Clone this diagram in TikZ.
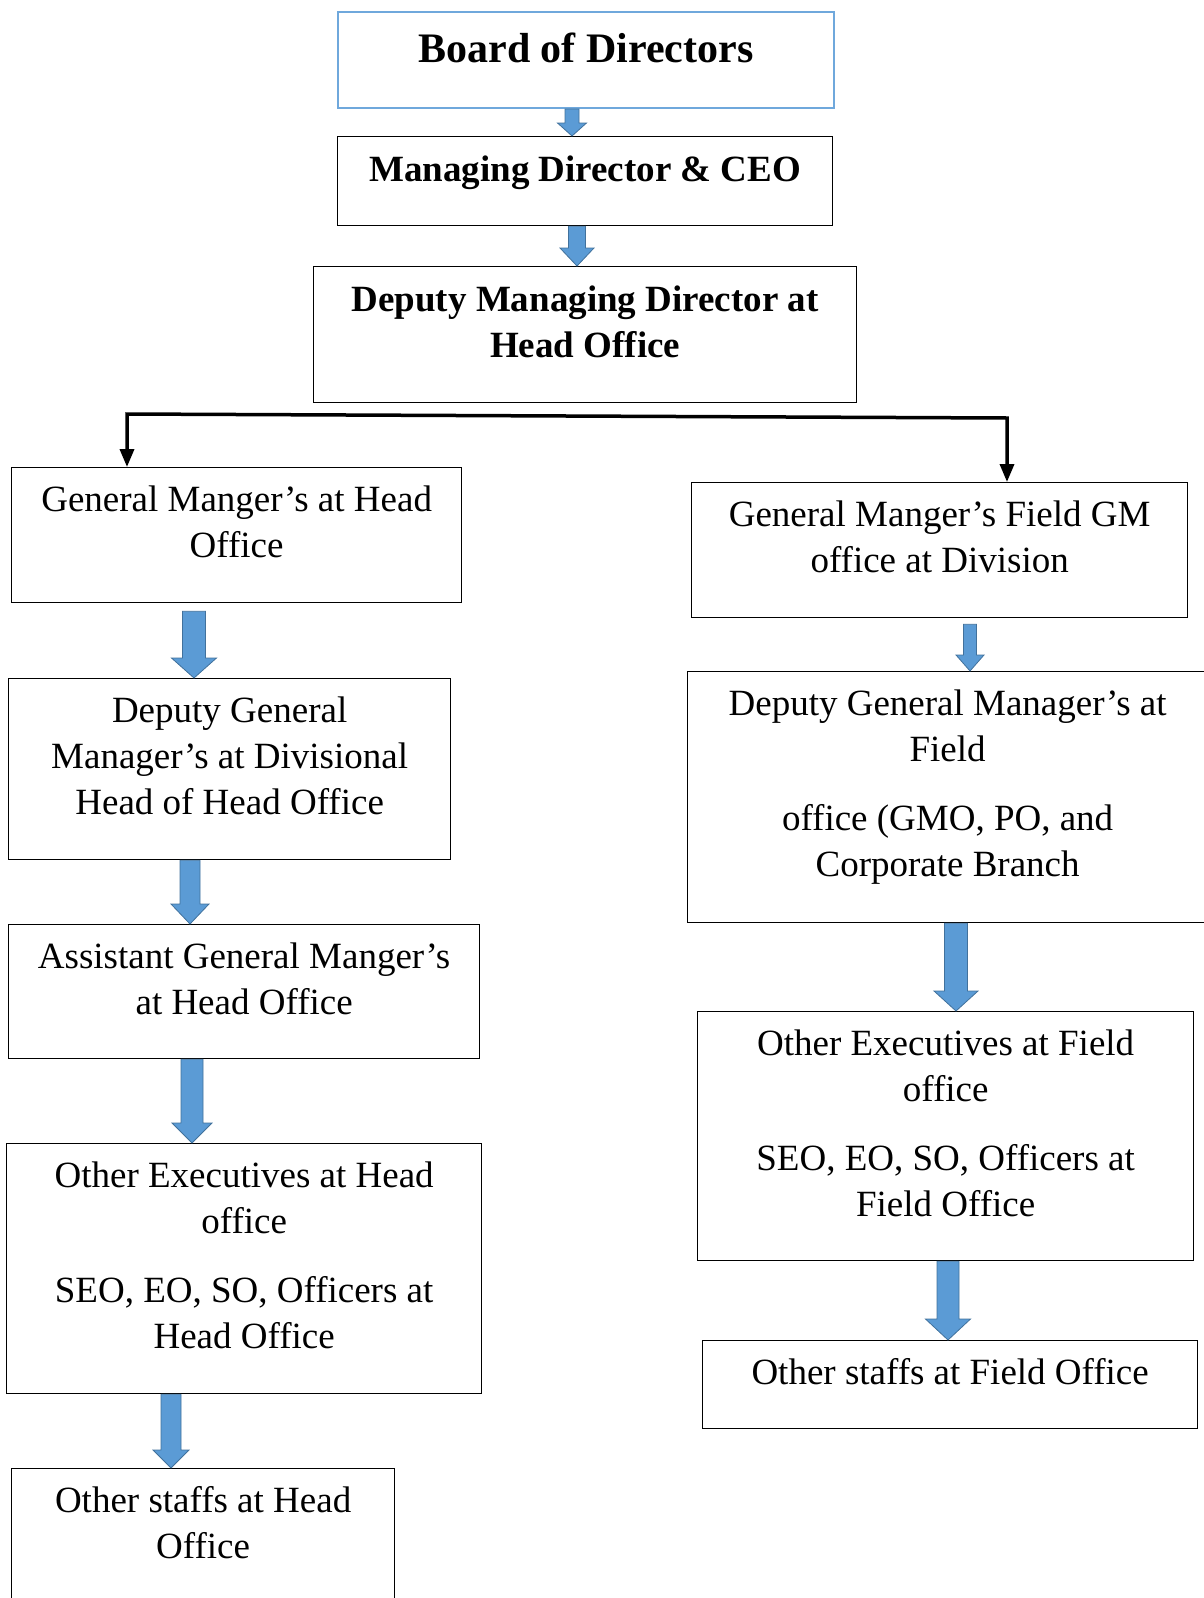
\documentclass[tikz,border=0pt]{standalone}
\usepackage{fontspec}
\setmainfont{Liberation Serif}
\usetikzlibrary{calc,arrows.meta}

\definecolor{arrowblue}{HTML}{5B9BD5}
\definecolor{arrowedge}{HTML}{41719C}
\definecolor{boardblue}{HTML}{6FA8DC}

% blue block arrow: start, tip, half shaft, half head, head length
\newcommand{\blockarrow}[5]{%
  \path (#1) coordinate (bs) (#2) coordinate (be);
  \draw[barrow] ($(bs)+(-#3,0)$) -- ($(be)+(-#3,-#5)$) -- ($(be)+(-#4,-#5)$)
    -- (be) -- ($(be)+(#4,-#5)$) -- ($(be)+(#3,-#5)$) -- ($(bs)+(#3,0)$) -- cycle;}

\begin{document}
\begin{tikzpicture}[
    x=1pt, y=-1pt,
    box/.style={draw, line width=1.3pt, anchor=north west, inner sep=0pt,
      font=\fontsize{37}{46}\selectfont},
    boldbox/.style={box, font=\fontsize{37}{46}\selectfont\bfseries},
    barrow/.style={fill=arrowblue, draw=arrowedge, line width=0.8pt, line join=miter},
    split/.style={line width=3.5pt, line join=miter}
  ]
  \useasboundingbox (0,0) rectangle (1204,1598);

  % Top of the chart
  \node[boldbox, draw=boardblue, line width=2pt, font=\fontsize{42}{50}\selectfont\bfseries]
    (bod) at (337,11) {\parbox[t][96pt][t]{496pt}{\centering\vspace*{21pt}Board of Directors}};
  \node[boldbox] (md) at (337,136)
    {\parbox[t][89pt][t]{495pt}{\centering\vspace*{19pt}Managing Director \& CEO}};
  \node[boldbox] (dmd) at (313,266)
    {\parbox[t][136pt][t]{543pt}{\centering\vspace*{19pt}Deputy Managing Director at\\Head Office}};

  % Head office side
  \node[box] (gmh) at (11,467)
    {\parbox[t][135pt][t]{450pt}{\centering\vspace*{18pt}General Manger’s at Head\\Office}};
  \node[box] (dgm) at (8,678)
    {\parbox[t][181pt][t]{442pt}{\centering\vspace*{18pt}Deputy General\\Manager’s at Divisional\\Head of Head Office}};
  \node[box] (agm) at (8,924)
    {\parbox[t][134pt][t]{471pt}{\centering\vspace*{18pt}Assistant General Manger’s\\at Head Office}};
  \node[box] (oeh) at (6,1143)
    {\parbox[t][250pt][t]{475pt}{\centering\vspace*{18pt}Other Executives at Head\\office\\[23pt]SEO, EO, SO, Officers at\\Head Office}};
  \node[box] (osh) at (11,1468)
    {\parbox[t][150pt][t]{383pt}{\centering\vspace*{18pt}Other staffs at Head\\Office}};

  % Field side
  \node[box] (gmf) at (691,482)
    {\parbox[t][135pt][t]{496pt}{\centering\vspace*{18pt}General Manger’s Field GM\\office at Division}};
  \node[box] (dgmf) at (687,671)
    {\parbox[t][251pt][t]{520pt}{\centering\vspace*{18pt}Deputy General Manager’s at\\Field\\[23pt]office (GMO, PO, and\\Corporate Branch}};
  \node[box] (oef) at (697,1011)
    {\parbox[t][249pt][t]{496pt}{\centering\vspace*{18pt}Other Executives at Field\\office\\[23pt]SEO, EO, SO, Officers at\\Field Office}};
  \node[box] (osf) at (702,1340)
    {\parbox[t][88pt][t]{495pt}{\centering\vspace*{18pt}Other staffs at Field Office}};

  % Split below the deputy MD
  \coordinate (lb) at (127,414);
  \coordinate (rb) at (1007,418);
  \draw[split, {Triangle[length=18pt,width=14pt]}-{Triangle[length=18pt,width=14pt]}]
    (gmh.north -| lb) -- (lb) -- (rb) -- (gmf.north -| rb);

  % Block arrows
  \blockarrow{bod.south -| 572,0}{md.north -| 572,0}{7}{14.5}{13}
  \blockarrow{md.south -| 577,0}{dmd.north -| 577,0}{8.5}{17}{18}
  \blockarrow{$(gmh.south -| 194,0)+(0,8)$}{dgm.north -| 194,0}{11.5}{22.5}{20}
  \blockarrow{dgm.south -| 190,0}{agm.north -| 190,0}{10}{19}{20}
  \blockarrow{agm.south -| 192,0}{oeh.north -| 192,0}{11}{20}{20}
  \blockarrow{oeh.south -| 171,0}{osh.north -| 171,0}{10}{18}{18}
  \blockarrow{$(gmf.south -| 970,0)+(0,6)$}{dgmf.north -| 970,0}{6.5}{14}{16}
  \blockarrow{dgmf.south -| 956,0}{oef.north -| 956,0}{11.5}{22}{20}
  \blockarrow{oef.south -| 948,0}{osf.north -| 948,0}{11}{22.5}{21}
\end{tikzpicture}
\end{document}
